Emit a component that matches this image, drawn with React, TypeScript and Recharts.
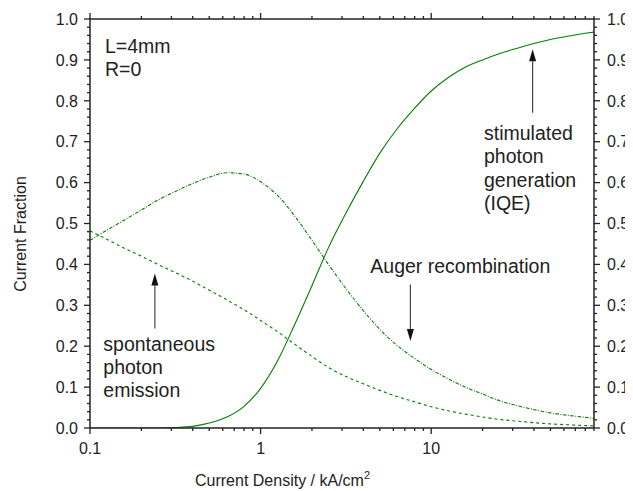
import React from "react";
import { LineChart, Line, XAxis, YAxis, ReferenceLine } from "recharts";

const currentDensity = [0.1, 0.126, 0.158, 0.2, 0.25, 0.316, 0.4, 0.5, 0.63, 0.8, 1, 1.26, 1.58, 2, 2.5, 3.16, 4, 5, 6.3, 8, 10, 12.6, 15.8, 20, 25, 31.6, 40, 50, 63, 80, 90];
const stimulated = [0, 0, 0, 0, 0, 0.001, 0.004, 0.012, 0.026, 0.053, 0.097, 0.165, 0.252, 0.348, 0.441, 0.525, 0.603, 0.672, 0.731, 0.782, 0.824, 0.857, 0.882, 0.9, 0.915, 0.928, 0.94, 0.95, 0.958, 0.965, 0.968];
const auger = [0.459, 0.484, 0.508, 0.533, 0.557, 0.578, 0.598, 0.613, 0.624, 0.621, 0.602, 0.568, 0.519, 0.459, 0.4, 0.341, 0.287, 0.241, 0.202, 0.17, 0.143, 0.12, 0.1, 0.083, 0.067, 0.055, 0.045, 0.037, 0.031, 0.026, 0.023];
const spontaneous = [0.482, 0.461, 0.44, 0.42, 0.4, 0.38, 0.359, 0.337, 0.314, 0.289, 0.263, 0.235, 0.205, 0.175, 0.148, 0.126, 0.108, 0.092, 0.077, 0.064, 0.052, 0.042, 0.034, 0.027, 0.021, 0.017, 0.013, 0.01, 0.008, 0.006, 0.005];

const xMajorTicks = [0.1, 1, 10];
const xMinorTicks = [0.2, 0.3, 0.4, 0.5, 0.6, 0.7, 0.8, 0.9, 2, 3, 4, 5, 6, 7, 8, 9, 20, 30, 40, 50, 60, 70, 80, 90];
const yMajorTicks = [0, 0.1, 0.2, 0.3, 0.4, 0.5, 0.6, 0.7, 0.8, 0.9, 1.0];
const yMinorTicks = Array.from({ length: 51 }, (_, i) => Math.round(i * 2) / 100);

const data = currentDensity.map((x, i) => ({
  x,
  stimulated: stimulated[i],
  auger: auger[i],
  spontaneous: spontaneous[i],
}));

const FONT = '"Liberation Sans", Arial, sans-serif';
const INK = "#222";
const GREEN = "#008000";
const MAJOR = 6;
const MINOR = 3;

const W = 625;
const H = 483;
const M = { top: 6, right: 4, left: 22, bottom: 33 };
// plot box that the margins and axis sizes below give
const BOX = { left: 82, right: 586, top: 11, bottom: 420 };
const X_DOMAIN = [0.1, 90];

// same mapping as the chart's log x axis / linear y axis, for the tick marks
const lx = (v: number) =>
  BOX.left +
  ((Math.log10(v) - Math.log10(X_DOMAIN[0])) / (Math.log10(X_DOMAIN[1]) - Math.log10(X_DOMAIN[0]))) *
    (BOX.right - BOX.left);
const ly = (v: number) => BOX.bottom - v * (BOX.bottom - BOX.top);

const isMajorY = (v: number) => yMajorTicks.some((t) => Math.abs(t - v) < 1e-9);

const BottomLabel = (p: any) => (
  <text x={p.x} y={p.y + 26} textAnchor="middle" fontSize={16} fill={INK} fontFamily={FONT}>
    {String(p.payload.value)}
  </text>
);

const LeftLabel = (p: any) => (
  <text x={p.x - 12} y={p.y} dy="0.36em" textAnchor="end" fontSize={16} fill={INK} fontFamily={FONT}>
    {p.payload.value.toFixed(1)}
  </text>
);

const RightLabel = (p: any) => (
  <text x={p.x + 13} y={p.y} dy="0.36em" textAnchor="start" fontSize={16} fill={INK} fontFamily={FONT}>
    {p.payload.value.toFixed(1)}
  </text>
);

// arrow from (x1,y1) to the tip at (x2,y2)
const Arrow = (p: any) => {
  const { x1, y1, x2, y2 } = p;
  const dx = x2 - x1;
  const dy = y2 - y1;
  const len = Math.sqrt(dx * dx + dy * dy) || 1;
  const ux = dx / len;
  const uy = dy / len;
  const head = 12;
  const half = 3.5;
  const bx = x2 - ux * head;
  const by = y2 - uy * head;
  return (
    <g>
      <line x1={x1} y1={y1} x2={bx} y2={by} stroke="#444" strokeWidth={1.2} />
      <polygon
        points={`${x2},${y2} ${bx - uy * half},${by + ux * half} ${bx + uy * half},${by - ux * half}`}
        fill="#111"
      />
    </g>
  );
};

const TickMarks = () => (
  <g stroke={INK} strokeWidth={1.3}>
    {[...xMajorTicks, ...xMinorTicks].map((v) => {
      const len = xMajorTicks.includes(v) ? MAJOR : MINOR;
      const x = lx(v);
      return (
        <g key={`x${v}`}>
          <line x1={x} x2={x} y1={BOX.bottom} y2={BOX.bottom + len} />
          <line x1={x} x2={x} y1={BOX.top} y2={BOX.top - len} />
        </g>
      );
    })}
    {yMinorTicks.map((v) => {
      const len = isMajorY(v) ? MAJOR : MINOR;
      const y = ly(v);
      return (
        <g key={`y${v}`}>
          <line x1={BOX.left} x2={BOX.left - len} y1={y} y2={y} />
          <line x1={BOX.right} x2={BOX.right + len} y1={y} y2={y} />
        </g>
      );
    })}
  </g>
);

export default function App() {
  return (
    <div style={{ position: "relative", width: W, height: H }}>
      <LineChart width={W} height={H} data={data} margin={M}>
        <XAxis
          xAxisId="bottom"
          dataKey="x"
          type="number"
          scale="log"
          domain={X_DOMAIN}
          allowDataOverflow
          ticks={xMajorTicks}
          interval={0}
          tick={<BottomLabel />}
          tickSize={0}
          tickMargin={0}
          tickLine={false}
          axisLine={{ stroke: INK, strokeWidth: 1.5 }}
          height={30}
        />
        <XAxis
          xAxisId="top"
          orientation="top"
          dataKey="x"
          type="number"
          scale="log"
          domain={X_DOMAIN}
          allowDataOverflow
          ticks={xMajorTicks}
          tick={false}
          tickLine={false}
          axisLine={{ stroke: INK, strokeWidth: 1.5 }}
          height={5}
        />
        <YAxis
          yAxisId="left"
          type="number"
          domain={[0, 1]}
          allowDataOverflow
          ticks={yMajorTicks}
          interval={0}
          tick={<LeftLabel />}
          tickSize={0}
          tickMargin={0}
          tickLine={false}
          axisLine={{ stroke: INK, strokeWidth: 1.5 }}
          width={60}
        />
        <YAxis
          yAxisId="right"
          orientation="right"
          type="number"
          domain={[0, 1]}
          allowDataOverflow
          ticks={yMajorTicks}
          interval={0}
          tick={<RightLabel />}
          tickSize={0}
          tickMargin={0}
          tickLine={false}
          axisLine={{ stroke: INK, strokeWidth: 1.5 }}
          width={35}
        />
        <Line
          xAxisId="top"
          yAxisId="right"
          dataKey="stimulated"
          stroke="none"
          dot={false}
          legendType="none"
          isAnimationActive={false}
        />
        <Line
          xAxisId="bottom"
          yAxisId="left"
          type="monotone"
          dataKey="stimulated"
          stroke={GREEN}
          strokeWidth={1.1}
          dot={false}
          isAnimationActive={false}
        />
        <Line
          xAxisId="bottom"
          yAxisId="left"
          type="monotone"
          dataKey="auger"
          stroke={GREEN}
          strokeWidth={1.1}
          strokeDasharray="3.5 1.5 1 1.5"
          dot={false}
          isAnimationActive={false}
        />
        <Line
          xAxisId="bottom"
          yAxisId="left"
          type="monotone"
          dataKey="spontaneous"
          stroke={GREEN}
          strokeWidth={1.1}
          strokeDasharray="3 3"
          dot={false}
          isAnimationActive={false}
        />
        <ReferenceLine
          xAxisId="bottom"
          yAxisId="left"
          segment={[{ x: 39.3, y: 0.771 }, { x: 39.3, y: 0.926 }]}
          shape={Arrow}
        />
        <ReferenceLine
          xAxisId="bottom"
          yAxisId="left"
          segment={[{ x: 7.55, y: 0.351 }, { x: 7.55, y: 0.213 }]}
          shape={Arrow}
        />
        <ReferenceLine
          xAxisId="bottom"
          yAxisId="left"
          segment={[{ x: 0.24, y: 0.243 }, { x: 0.24, y: 0.378 }]}
          shape={Arrow}
        />
      </LineChart>
      <svg
        width={W}
        height={H}
        style={{ position: "absolute", left: 0, top: 0, pointerEvents: "none" }}
        fontFamily={FONT}
        fill={INK}
      >
        <TickMarks />
        <g fontSize={19.5}>
          <text x={97} y={45}>L=4mm</text>
          <text x={97} y={68.3}>R=0</text>
          <text x={476} y={132}>stimulated</text>
          <text x={476} y={155.3}>photon</text>
          <text x={476} y={178.7}>generation</text>
          <text x={476} y={202}>(IQE)</text>
          <text x={362.3} y={265.3}>Auger recombination</text>
          <text x={95.3} y={342.7}>spontaneous</text>
          <text x={95.3} y={366}>photon</text>
          <text x={95.3} y={389.3}>emission</text>
        </g>
        <text x={187} y={478} fontSize={16}>
          Current Density / kA/cm<tspan dy={-7} fontSize={11}>2</tspan>
        </text>
        <text x={18} y={226} fontSize={16} textAnchor="middle" transform="rotate(-90 18 226)">
          Current Fraction
        </text>
      </svg>
    </div>
  );
}
